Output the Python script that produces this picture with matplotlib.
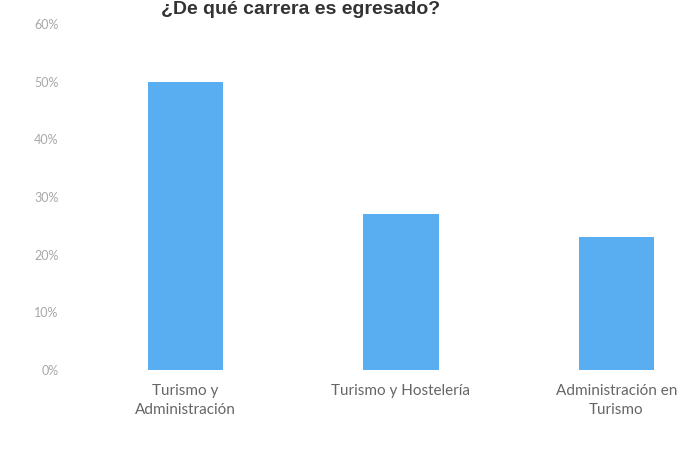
import matplotlib
matplotlib.use("Agg")
import matplotlib.pyplot as plt
import numpy as np

# Datos
carreras = ["Turismo y\nAdministración", "Turismo y Hostelería", "Administración en\nTurismo"]
porcentajes = [0.50, 0.27, 0.23]
ticks_y = [0, 0.1, 0.2, 0.3, 0.4, 0.5, 0.6]
etiquetas_y = ["0%", "10%", "20%", "30%", "40%", "50%", "60%"]
titulo = "¿De qué carrera es egresado?"

plt.rcParams["font.family"] = ["Lato", "DejaVu Sans"]

fig = plt.figure(figsize=(6.96, 4.55), dpi=100)
ax = fig.add_axes([78 / 696, 85 / 455, 1 - 78 / 696, 346 / 455])

x = np.arange(len(carreras))
ax.bar(x, porcentajes, width=0.35, color="#58aef0")

ax.set_ylim(0, 0.6)
ax.set_xlim(-0.5, 2.37)
ax.set_yticks(ticks_y)
ax.set_yticklabels(etiquetas_y, color="#a8a8a8", fontsize=9)
ax.set_xticks(x)
ax.set_xticklabels(carreras, color="#666666", fontsize=11, linespacing=1.45)
ax.tick_params(length=0, pad=10)
ax.tick_params(axis="y", pad=14)
for s in ax.spines.values():
    s.set_visible(False)

# Título en la parte superior
fig.text(440 / 696, 1 - 1 / 455, titulo, ha="right", va="top",
         fontsize=14, fontweight="bold", color="#333333",
         family=["Liberation Sans", "DejaVu Sans"])

fig.savefig("out.png", dpi=100)
